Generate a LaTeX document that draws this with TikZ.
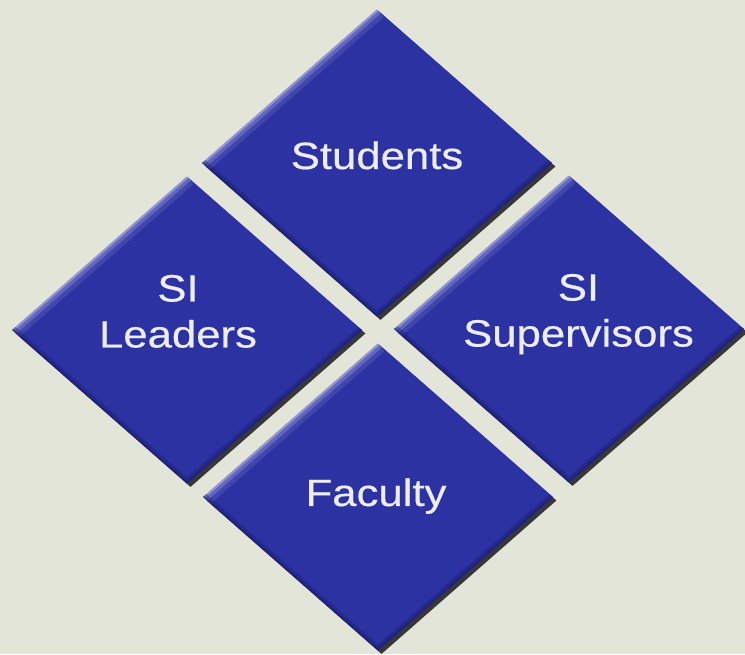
\documentclass[tikz,border=0pt]{standalone}
\usepackage{fontspec}
\newfontfamily\tilefont[FakeStretch=1.15, FakeBold=0.4]{Liberation Sans}
\usepackage{xcolor}
\usepackage{tikz}
\usetikzlibrary{shapes.geometric, shadows}

\definecolor{paper}{RGB}{228,229,217}
\definecolor{tileblue}{RGB}{45,50,163}
\definecolor{tiledark}{RGB}{22,25,105}
\definecolor{tilelight}{RGB}{215,218,252}
\definecolor{tileshadow}{RGB}{55,55,58}
\definecolor{tiletext}{RGB}{236,237,248}

\begin{document}
\begin{tikzpicture}[
    x=1pt, y=1pt,
    tile/.style={
      diamond,
      fill=tileblue,
      minimum width=350pt,
      minimum height=307pt,
      inner sep=0pt,
      general shadow={fill=tileshadow, shadow xshift=3.5pt, shadow yshift=-3.5pt},
      path picture={
        % soft highlight along the upper left edge
        \draw[tilelight, line width=20pt, opacity=.12]
          (path picture bounding box.west) -- (path picture bounding box.north);
        \draw[tilelight, line width=11pt, opacity=.22]
          (path picture bounding box.west) -- (path picture bounding box.north);
        \draw[tilelight, line width=4pt, opacity=.40]
          (path picture bounding box.west) -- (path picture bounding box.north);
        % darker rim along the lower edges
        \draw[tiledark, line width=9pt, opacity=.35]
          (path picture bounding box.west) -- (path picture bounding box.south)
          -- (path picture bounding box.east);
        \draw[tiledark, line width=3pt, opacity=.5]
          (path picture bounding box.west) -- (path picture bounding box.south)
          -- (path picture bounding box.east);
      }
    },
    tilelabel/.style={
      text=tiletext,
      align=center,
      inner sep=0pt,
      font=\tilefont\fontsize{38}{46}\selectfont
    }
  ]

    % Background
    \fill[paper] (0,0) rectangle (745,654);
    \useasboundingbox (0,0) rectangle (745,654);

    % The four tiles of the diamond
    \node[tile] (students) at (377,491) {};
    \node[tile] (leaders) at (187,324) {};
    \node[tile] (supervisors) at (569,325) {};
    \node[tile] (faculty) at (378,157) {};

    % Tile texts
    \node[tilelabel, anchor=base] (studentstext) at ([shift={(0,-6)}]students.center) {Students};
    \node[tilelabel] (leaderstext) at ([shift={(-9,18.6)}]leaders.center) {SI\\Leaders};
    \node[tilelabel] (supervisorstext) at ([shift={(9.5,14.8)}]supervisors.center) {SI\\Supervisors};
    \node[tilelabel, anchor=base] (facultytext) at ([shift={(-2,-9)}]faculty.center) {Faculty};

\end{tikzpicture}
\end{document}
